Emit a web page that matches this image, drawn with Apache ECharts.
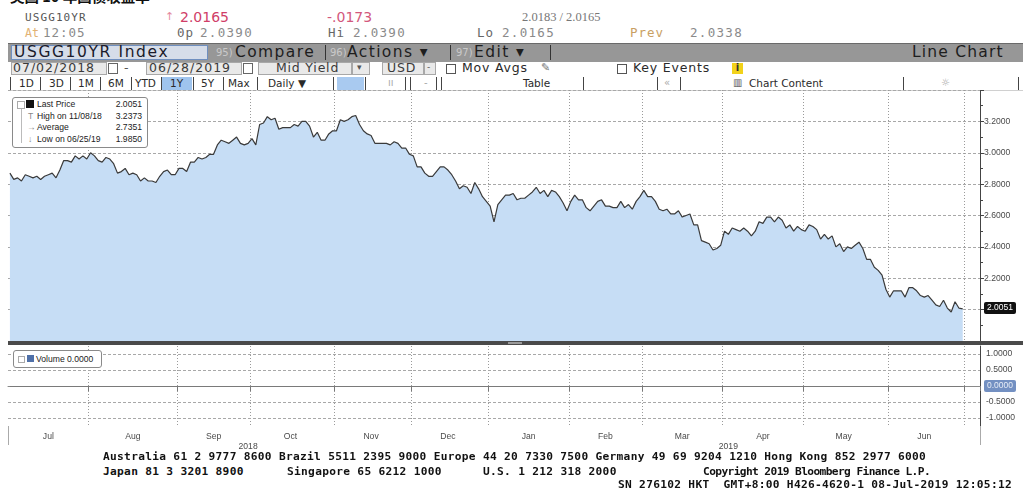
<!DOCTYPE html>
<html><head><meta charset="utf-8">
<script src="https://cdn.jsdelivr.net/npm/echarts@6/dist/echarts.min.js"></script>
<style>
html,body{margin:0;padding:0;background:#fff;}
body{width:1023px;height:499px;overflow:hidden;position:relative;font-family:"DejaVu Sans",sans-serif;}
.a{position:absolute;white-space:pre;line-height:1;}
.hm{font-family:"DejaVu Sans Mono",monospace;}
.tb1{position:absolute;left:8px;top:43px;width:1015px;height:18px;background:#979797;border-top:1px solid #6a6a6a;}
.sep{position:absolute;width:1px;background:#333;}
.box{position:absolute;background:#e9e9e9;border:1px solid #a8a8a8;box-sizing:border-box;}
.ft{position:absolute;white-space:pre;font-family:"DejaVu Sans Mono",monospace;font-weight:bold;font-size:11.2px;color:#111;line-height:1;}
.lg{position:absolute;background:#fff;border:1px solid #8a8a8a;border-radius:3px;box-sizing:border-box;font-family:"Liberation Sans",Arial,sans-serif;font-size:8.6px;color:#222;}
</style></head>
<body>
<!-- title (cut off at top) -->
<div class="a" style="left:10px;top:-11px;font-family:'Noto Sans CJK SC';font-weight:bold;font-size:14.5px;color:#111;">美国 10 年国债收益率</div>
<!-- header row 1 -->
<div class="a hm" style="left:25px;top:12px;font-size:11px;letter-spacing:1.1px;color:#555;">USGG10YR</div>
<div class="a" style="left:165px;top:11px;font-size:11px;color:#e48aa0;">↑</div>
<div class="a" style="left:180px;top:10px;font-size:14px;color:#d03e68;">2.0165</div>
<div class="a" style="left:327px;top:10px;font-size:14px;color:#d3587c;">-.0173</div>
<div class="a" style="left:522px;top:11px;font-size:12.5px;color:#777;font-family:'Liberation Serif',serif;">2.0183 / 2.0165</div>
<!-- header row 2 -->
<div class="a hm" style="left:25px;top:28px;font-size:11.5px;color:#e2b273;">At</div>
<div class="a hm" style="left:43px;top:27px;font-size:12.5px;letter-spacing:1px;color:#8a8a8a;">12:05</div>
<div class="a hm" style="left:177px;top:27px;font-size:12.5px;letter-spacing:1px;color:#666;">0p</div>
<div class="a hm" style="left:200px;top:27px;font-size:12.5px;letter-spacing:1.3px;color:#8a8a8a;">2.0390</div>
<div class="a hm" style="left:328px;top:27px;font-size:12.5px;letter-spacing:1px;color:#666;">Hi</div>
<div class="a hm" style="left:353px;top:27px;font-size:12.5px;letter-spacing:1.3px;color:#8a8a8a;">2.0390</div>
<div class="a hm" style="left:477px;top:27px;font-size:12.5px;letter-spacing:1px;color:#666;">Lo</div>
<div class="a hm" style="left:502px;top:27px;font-size:12.5px;letter-spacing:1.3px;color:#8a8a8a;">2.0165</div>
<div class="a hm" style="left:630px;top:27px;font-size:12.5px;letter-spacing:1px;color:#c9a062;">Prev</div>
<div class="a hm" style="left:690px;top:27px;font-size:12.5px;letter-spacing:1.3px;color:#8a8a8a;">2.0338</div>

<!-- toolbar row 1 -->
<div class="tb1"></div>
<div style="position:absolute;left:11px;top:45px;width:197px;height:15px;background:#d6dde9;border:1px solid #6f8fbf;box-sizing:border-box;"></div>
<div class="a" style="left:14px;top:45px;font-size:15.5px;letter-spacing:1.6px;color:#1b1b2b;">USGG10YR Index</div>
<div class="a" style="left:216px;top:48px;font-size:10px;color:#c9c9c9;">95)</div>
<div class="a" style="left:235px;top:45px;font-size:15.5px;letter-spacing:1.4px;color:#1e1e1e;">Compare</div>
<div class="sep" style="left:325px;top:45px;height:15px;"></div>
<div class="a" style="left:330px;top:48px;font-size:10px;color:#c9c9c9;">96)</div>
<div class="a" style="left:347px;top:45px;font-size:15.5px;letter-spacing:1.4px;color:#1e1e1e;">Actions ▾</div>
<div class="sep" style="left:450px;top:45px;height:15px;"></div>
<div class="a" style="left:456px;top:48px;font-size:10px;color:#c9c9c9;">97)</div>
<div class="a" style="left:474px;top:45px;font-size:15.5px;letter-spacing:1.4px;color:#1e1e1e;">Edit ▾</div>
<div class="sep" style="left:550px;top:45px;height:15px;"></div>
<div class="a" style="left:912px;top:45px;font-size:15.5px;letter-spacing:1.2px;color:#1e1e1e;">Line Chart</div>

<!-- toolbar row 2 -->
<div class="box" style="left:11px;top:62px;width:96px;height:13px;"></div>
<div class="a" style="left:13px;top:62px;font-size:12.5px;letter-spacing:1px;color:#3a3a3a;">07/02/2018</div>
<div class="box" style="left:108px;top:63px;width:10px;height:11px;background:#fff;border-color:#666;"></div>
<div class="a" style="left:124px;top:62px;font-size:12.5px;color:#555;">-</div>
<div class="box" style="left:146px;top:62px;width:96px;height:13px;"></div>
<div class="a" style="left:149px;top:62px;font-size:12.5px;letter-spacing:1px;color:#3a3a3a;">06/28/2019</div>
<div class="box" style="left:243px;top:63px;width:10px;height:11px;background:#fff;border-color:#666;"></div>
<div class="box" style="left:258px;top:62px;width:94px;height:13px;"></div>
<div class="a" style="left:276px;top:62px;font-size:12.5px;letter-spacing:0.8px;color:#3a3a3a;">Mid Yield</div>
<div class="box" style="left:352px;top:62px;width:18px;height:13px;"></div>
<div class="a" style="left:357px;top:63px;font-size:9px;color:#555;">▾</div>
<div class="box" style="left:382px;top:62px;width:42px;height:13px;"></div>
<div class="a" style="left:387px;top:62px;font-size:12.5px;letter-spacing:0.8px;color:#3a3a3a;">USD</div>
<div class="box" style="left:424px;top:62px;width:12px;height:13px;"></div>
<div class="a" style="left:427px;top:63px;font-size:9px;color:#555;">-</div>
<div class="box" style="left:446px;top:64px;width:10px;height:10px;background:#fff;border-color:#555;"></div>
<div class="a" style="left:462px;top:62px;font-size:12.5px;letter-spacing:0.8px;color:#2a2a2a;">Mov Avgs</div>
<div class="a" style="left:541px;top:62px;font-size:11px;color:#777;">✎</div>
<div class="box" style="left:617px;top:64px;width:10px;height:10px;background:#fff;border-color:#555;"></div>
<div class="a" style="left:633px;top:62px;font-size:12.5px;letter-spacing:0.8px;color:#2a2a2a;">Key Events</div>
<div class="a" style="left:732px;top:63px;width:11px;height:11px;background:#f2d21a;font-size:10px;font-weight:bold;text-align:center;color:#333;">i</div>

<!-- toolbar row 3 -->
<div style="position:absolute;left:8px;top:76px;width:1015px;height:14px;border-bottom:1px solid #d0d0d0;"></div>
<div style="position:absolute;left:162px;top:77px;width:30px;height:13px;background:#9fc4ee;"></div>
<div style="position:absolute;left:337px;top:77px;width:27px;height:13px;background:#a9caf0;"></div>
<div id="r3"></div>

<!-- charts -->
<div id="c1" style="position:absolute;left:0;top:90px;width:1023px;height:251px;"></div>
<div style="position:absolute;left:8px;top:341px;width:1015px;height:4px;background:#4a4a4a;"></div>
<div style="position:absolute;left:508px;top:342px;width:14px;height:2px;background:#9a9a9a;"></div>
<div id="c2" style="position:absolute;left:0;top:345px;width:1023px;height:112px;"></div>

<!-- legend boxes -->
<div class="lg" style="left:12px;top:97px;width:136px;height:51px;">
  <div style="position:absolute;left:8px;top:7px;width:1px;height:38px;background:#bbb;"></div>
  <div style="position:absolute;left:4px;top:3px;width:6px;height:6px;border:1px solid #aaa;background:#fff;"></div>
  <div style="position:absolute;left:13px;top:2px;width:8px;height:8px;background:#111;"></div>
  <div class="a" style="left:24px;top:2px;">Last Price</div><div class="a" style="right:5px;top:2px;">2.0051</div>
  <div class="a" style="left:15px;top:14px;color:#888;">T</div>
  <div class="a" style="left:24px;top:14px;">High on 11/08/18</div><div class="a" style="right:5px;top:14px;">3.2373</div>
  <div class="a" style="left:14px;top:25px;color:#888;">→</div>
  <div class="a" style="left:24px;top:25px;">Average</div><div class="a" style="right:5px;top:25px;">2.7351</div>
  <div class="a" style="left:15px;top:37px;color:#888;">↓</div>
  <div class="a" style="left:24px;top:37px;">Low on 06/25/19</div><div class="a" style="right:5px;top:37px;">1.9850</div>
</div>
<div class="lg" style="left:13px;top:350px;width:89px;height:18px;">
  <div style="position:absolute;left:4px;top:5px;width:5px;height:5px;border:1px solid #aaa;"></div>
  <div style="position:absolute;left:13px;top:4px;width:7px;height:7px;background:#4f70a8;"></div>
  <div class="a" style="left:22px;top:4px;">Volume 0.0000</div>
</div>

<!-- footer -->
<div class="ft" style="left:103px;top:451px;letter-spacing:0.3px;">Australia 61 2 9777 8600 Brazil 5511 2395 9000 Europe 44 20 7330 7500 Germany 49 69 9204 1210 Hong Kong 852 2977 6000</div>
<div class="ft" style="left:103px;top:466px;letter-spacing:0.3px;">Japan 81 3 3201 8900</div>
<div class="ft" style="left:287px;top:466px;letter-spacing:0.3px;">Singapore 65 6212 1000</div>
<div class="ft" style="left:483px;top:466px;letter-spacing:0.3px;">U.S. 1 212 318 2000</div>
<div class="ft" style="left:703px;top:466px;letter-spacing:-0.6px;">Copyright 2019 Bloomberg Finance L.P.</div>
<div class="ft" style="left:618px;top:479px;letter-spacing:0.3px;">SN 276102 HKT  GMT+8:00 H426-4620-1 08-Jul-2019 12:05:12</div>

<script>
// ---------- data ----------
const jul2018 = [2.87,2.83,2.84,2.82,2.86,2.85,2.84,2.85,2.83,2.85,2.86,2.87,2.84,2.89,2.95,2.95,2.94,2.98,2.96,2.98,2.96];
const aug2018 = [3.00,2.98,2.95,2.94,2.97,2.96,2.93,2.87,2.88,2.90,2.86,2.87,2.86,2.82,2.84,2.82,2.82,2.81,2.85,2.88,2.89,2.86,2.86];
const sep2018 = [2.90,2.90,2.88,2.94,2.94,2.97,2.96,2.97,2.99,2.99,3.05,3.08,3.07,3.06,3.08,3.10,3.06,3.05,3.06];
const oct2018 = [3.09,3.05,3.18,3.19,3.23,3.21,3.22,3.15,3.16,3.16,3.16,3.18,3.17,3.20,3.20,3.17,3.10,3.13,3.08,3.08,3.12,3.14];
const nov2018 = [3.14,3.21,3.20,3.21,3.23,3.2373,3.18,3.14,3.12,3.11,3.06,3.06,3.06,3.06,3.05,3.07,3.06,3.03,3.03,2.99];
const dec2018 = [2.98,2.91,2.91,2.87,2.85,2.85,2.88,2.91,2.91,2.89,2.86,2.82,2.77,2.79,2.78,2.74,2.81,2.77,2.72,2.69];
const jan2019 = [2.66,2.56,2.67,2.70,2.73,2.73,2.74,2.70,2.71,2.71,2.73,2.75,2.78,2.74,2.76,2.72,2.76,2.75,2.72,2.68,2.63];
const feb2019 = [2.69,2.73,2.70,2.70,2.65,2.63,2.66,2.69,2.70,2.66,2.66,2.65,2.65,2.69,2.65,2.67,2.64,2.69,2.72];
const mar2019 = [2.76,2.72,2.72,2.69,2.64,2.63,2.64,2.61,2.61,2.63,2.59,2.60,2.61,2.54,2.54,2.44,2.43,2.42,2.38,2.39,2.41];
const apr2019 = [2.50,2.48,2.52,2.51,2.50,2.52,2.50,2.47,2.50,2.56,2.55,2.59,2.59,2.56,2.59,2.57,2.52,2.54,2.50,2.53,2.51];
const may2019 = [2.50,2.54,2.53,2.51,2.45,2.48,2.45,2.47,2.40,2.42,2.37,2.40,2.39,2.41,2.43,2.39,2.32,2.32,2.27,2.25,2.22,2.13];
const jun2019 = [2.08,2.12,2.12,2.12,2.08,2.14,2.14,2.12,2.09,2.08,2.09,2.06,2.03,2.02,2.06,2.01,1.985,2.05,2.01,2.0051];

const monthNames = ['Jan','Feb','Mar','Apr','May','Jun','Jul','Aug','Sep','Oct','Nov','Dec'];
const upperTicks = [2.0,2.2,2.4,2.6,2.8,3.0,3.2];
const lowerTicks = [1.0,0.5,-0.5,-1.0];
const volumeLevel = 0.0;
const holidays = ['2018-07-04','2018-09-03','2018-10-08','2018-11-12','2018-11-22','2018-12-25',
  '2019-01-01','2019-01-21','2019-02-18','2019-04-19','2019-05-27','2019-07-04'];

function tradingDays(start, end){
  const out=[]; let d=new Date(start+'T00:00:00Z'); const e=new Date(end+'T00:00:00Z');
  while(d<=e){ const wd=d.getUTCDay(); const s=d.toISOString().slice(0,10);
    if(wd!==0 && wd!==6 && holidays.indexOf(s)<0) out.push(s);
    d=new Date(d.getTime()+86400000); }
  return out;
}
const dataDays = tradingDays('2018-07-02','2019-06-28');
const padDays = tradingDays('2019-07-01','2019-07-05');
const categories = dataDays.concat(padDays);
const yields = [].concat(jul2018,aug2018,sep2018,oct2018,nov2018,dec2018,jan2019,feb2019,mar2019,apr2019,may2019,jun2019);
const lastIdx = yields.length-1;
const lastValue = yields[lastIdx];

const monthStart = new Set(), monthLabel = new Set(), yearStart = new Set(), yearLabel = new Set();
const groups=[];
categories.forEach((d,i)=>{ const k=d.slice(0,7); if(!groups.length||groups[groups.length-1].k!==k) groups.push({k,s:i,n:0}); groups[groups.length-1].n++; if(i>0 && d.slice(0,7)!==categories[i-1].slice(0,7)) monthStart.add(i); });
groups.forEach(g=>{ if(g.s<=lastIdx) monthLabel.add(g.s+Math.floor((g.n-1)/2)); });
const ygroups=[];
dataDays.forEach((d,i)=>{ const y=d.slice(0,4); if(!ygroups.length||ygroups[ygroups.length-1].y!==y) ygroups.push({y,s:i,n:0}); ygroups[ygroups.length-1].n++; });
ygroups.forEach((g,j)=>{ if(j>0) yearStart.add(g.s); yearLabel.add(g.s+Math.floor(g.n/2)); });

const axisFont = {fontFamily:'Liberation Sans', fontSize:8.6, color:'#4a4a4a'};
const grid1 = {color:'#a8a8a8', type:[3,2], width:1};
const vgrid = {color:'#9a9a9a', type:[1,2], width:1};
const clear = 'rgba(0,0,0,0)';

// ---------- toolbar row 3 ----------
(function(){
  const r3=document.getElementById('r3');
  const items=[['1D',19],['3D',49],['1M',78],['6M',108],['YTD',135],['1Y',170],['5Y',201],['Max',228],['Daily ▼',268],['Table',523],['Chart Content',749]];
  items.forEach(([t,x])=>{ const s=document.createElement('div'); s.className='a'; s.style.cssText='left:'+x+'px;top:78px;font-size:10.5px;color:#2a2a2a;'; s.textContent=t; r3.appendChild(s); });
  [10,40,70,100,131,161,193,223,257,333,365,405,410,436,441,583,657,680,903,1018].forEach(x=>{ const s=document.createElement('div'); s.className='sep'; s.style.cssText='left:'+x+'px;top:77px;height:13px;background:#444;'; r3.appendChild(s); });
  [['ıı',388],['-',424],['«',664],['☼',941]].forEach(([t,x])=>{ const s=document.createElement('div'); s.className='a'; s.style.cssText='left:'+x+'px;top:78px;font-size:10px;color:#aaa;'; s.textContent=t; r3.appendChild(s); });
  const ic=document.createElement('div'); ic.className='a'; ic.style.cssText='left:733px;top:78px;font-size:10px;color:#555;'; ic.textContent='▥'; r3.appendChild(ic);
})();

// ---------- upper chart ----------
const c1 = echarts.init(document.getElementById('c1'));
c1.setOption({
  animation:false,
  grid:{left:8,right:43,top:-5.3,bottom:-12.5},
  xAxis:{type:'category',data:categories,boundaryGap:true,
    axisLine:{show:false},axisTick:{show:false},axisLabel:{show:false},
    splitLine:{show:true,interval:(i)=>monthStart.has(i),lineStyle:vgrid}},
  yAxis:{type:'value',position:'right',min:1.8,max:3.4,interval:0.2,
    axisLine:{show:true,lineStyle:{color:'#444'}},
    axisTick:{show:true,length:4,lineStyle:{color:'#444'}},
    minorTick:{show:true,splitNumber:2,length:3,lineStyle:{color:'#444'}},
    axisLabel:Object.assign({margin:4,formatter:v=>upperTicks.some(t=>Math.abs(t-v)<1e-6)?v.toFixed(4):''},axisFont),
    splitLine:{show:true,lineStyle:grid1}},
  series:[{type:'line',name:'Last Price',data:yields,symbol:'none',
    lineStyle:{color:'#3a3a3a',width:1.2},
    areaStyle:{color:'#c6ddf5',opacity:1,origin:'start'},
    markLine:{silent:true,symbol:'none',animation:false,
      lineStyle:{color:clear,width:0},
      label:{show:true,position:'end',distance:4,formatter:()=>lastValue.toFixed(4),backgroundColor:'#111',color:'#fff',
        padding:[2,3,1,3],borderRadius:2,fontSize:8.5,fontFamily:'Liberation Sans'},
      data:[{yAxis:lastValue}]}}]
});

// ---------- lower chart ----------
const c2 = echarts.init(document.getElementById('c2'));
c2.setOption({
  animation:false,
  grid:{left:8,right:43,top:1,bottom:31},
  xAxis:[{type:'category',data:categories,boundaryGap:true,position:'bottom',
      axisLine:{show:true,lineStyle:{color:'#8a8a8a'}},
      axisTick:{show:true,interval:(i)=>monthStart.has(i),length:5,lineStyle:{color:'#777'}},
      axisLabel:Object.assign({interval:(i)=>monthLabel.has(i),margin:6,formatter:(v)=>monthNames[+v.slice(5,7)-1]},axisFont),
      splitLine:{show:true,interval:(i)=>monthStart.has(i),lineStyle:vgrid}},
    {type:'category',data:categories,boundaryGap:true,position:'bottom',offset:0,
      axisLine:{show:false},
      axisTick:{show:true,interval:(i)=>yearStart.has(i),length:19,lineStyle:{color:'#aaa'}},
      axisLabel:Object.assign({interval:(i)=>yearLabel.has(i),margin:16,formatter:(v)=>v.slice(0,4)},axisFont),
      splitLine:{show:false}}],
  yAxis:{type:'value',position:'right',min:-1.25,max:1.25,interval:0.25,
    axisLine:{show:true,lineStyle:{color:'#444'}},
    axisTick:{show:false},
    axisLabel:Object.assign({margin:6,formatter:v=>lowerTicks.some(t=>Math.abs(t-v)<1e-6)?v.toFixed(4):''},axisFont),
    splitLine:{show:false}},
  series:[{type:'line',name:'Volume',data:[],symbol:'none',
    markLine:{silent:true,symbol:'none',animation:false,
      data:[
        {yAxis:lowerTicks[0],lineStyle:grid1,label:{show:false}},
        {yAxis:lowerTicks[1],lineStyle:grid1,label:{show:false}},
        {yAxis:lowerTicks[2],lineStyle:grid1,label:{show:false}},
        {yAxis:lowerTicks[3],lineStyle:grid1,label:{show:false}},
        [{xAxis:0,yAxis:volumeLevel,lineStyle:{color:'#7a7a7a',width:1,type:'solid'},label:{show:false}},{xAxis:lastIdx,yAxis:volumeLevel}],
        {yAxis:volumeLevel,lineStyle:{color:clear,width:0},label:{show:true,position:'end',distance:4,formatter:'0.0000',backgroundColor:'#7390c2',color:'#e6ecf6',
          padding:[2,3,1,3],borderRadius:2,fontSize:8.5,fontFamily:'Liberation Sans'}}
      ]}}]
});
</script>
</body></html>
